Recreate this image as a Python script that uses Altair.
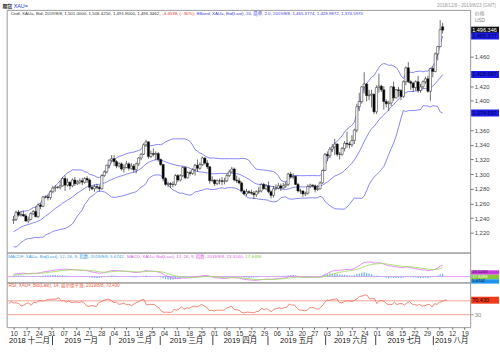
import altair as alt
import pandas as pd
import numpy as np

# ---------------- data ----------------
# closes before the visible window (Oct 1 - Dec 5 2018), only used to warm up the indicators
warmup_close = [1188, 1204, 1202, 1200, 1203, 1188, 1189, 1194, 1224, 1218, 1231, 1226, 1223, 1227, 1227, 1222,
                1231, 1233, 1232, 1235, 1228, 1223, 1214,
                1233, 1232, 1231, 1227, 1226, 1224, 1209, 1202, 1202, 1210, 1214, 1222, 1224, 1222, 1227, 1227,
                1223, 1222, 1214, 1222, 1224, 1221,
                1231, 1238, 1237]

# visible candles, Dec 6 2018 - Aug 8 2019 (one per weekday)
opens = [
    1237, 1238, 1248, 1244, 1245, 1243, 1236, 1238, 1246, 1249, 1242, 1258, 1256, 1269, 1269, 1268, 1276, 1281,
    1282, 1282, 1284, 1294, 1285, 1289, 1284, 1292, 1287, 1289, 1291, 1289, 1294, 1292, 1282, 1280, 1283, 1282, 1280, 1298, 1303, 1312, 1319,
    1321, 1317, 1311, 1314, 1307, 1309, 1314, 1308, 1311, 1306, 1314, 1322, 1327, 1340, 1344, 1324, 1328, 1327, 1328, 1320,
    1313, 1294, 1286, 1287, 1286, 1286, 1298, 1292, 1298, 1309, 1295, 1302, 1301, 1306, 1312, 1308, 1313, 1322, 1315, 1310, 1291,
    1292, 1287, 1291, 1291, 1290, 1291, 1298, 1303, 1307, 1292, 1291, 1288, 1277, 1273, 1276, 1275, 1274, 1272, 1276, 1277, 1286, 1280,
    1284, 1276, 1271, 1280, 1281, 1284, 1281, 1284, 1286, 1300, 1296, 1297, 1286, 1277, 1277, 1273, 1274, 1283, 1285, 1284, 1279, 1280, 1288,
    1305, 1327, 1325, 1334, 1337, 1341, 1327, 1327, 1335, 1342, 1341, 1340, 1346, 1360, 1392, 1399, 1419, 1423, 1407, 1408,
    1409, 1385, 1418, 1420, 1415, 1399, 1396, 1397, 1419, 1404, 1415, 1414, 1406, 1426, 1445, 1426, 1424, 1418, 1426, 1414, 1419, 1426, 1430,
    1413, 1444, 1440, 1464, 1474, 1501.0]
highs = [
    1243, 1250, 1251, 1249, 1250, 1246, 1242, 1248, 1251, 1256, 1260, 1261, 1270, 1271, 1272, 1278, 1284, 1285,
    1284, 1291, 1296, 1298, 1294, 1290, 1294, 1296, 1292, 1294, 1295, 1296, 1297, 1294, 1284, 1286, 1287, 1285, 1300, 1305, 1313, 1320, 1326,
    1326, 1319, 1316, 1316, 1313, 1318, 1316, 1315, 1314, 1316, 1323, 1329, 1342, 1347, 1345, 1332, 1335, 1331, 1330, 1321,
    1314, 1296, 1290, 1289, 1290, 1300, 1300, 1300, 1311, 1310, 1304, 1305, 1308, 1314, 1320, 1316, 1324, 1323, 1319, 1311, 1297,
    1293, 1293, 1294, 1296, 1295, 1301, 1306, 1310, 1309, 1298, 1295, 1290, 1279, 1280, 1278, 1279, 1277, 1278, 1282, 1288, 1288, 1286,
    1290, 1278, 1284, 1286, 1288, 1287, 1288, 1290, 1302, 1303, 1301, 1298, 1288, 1280, 1278, 1276, 1286, 1287, 1286, 1286, 1285, 1290, 1306,
    1329, 1331, 1337, 1341, 1348, 1342, 1330, 1337, 1345, 1358, 1344, 1353, 1362, 1396, 1411, 1420, 1439, 1424, 1415, 1415,
    1410, 1421, 1437, 1422, 1420, 1402, 1400, 1420, 1426, 1416, 1419, 1416, 1428, 1447, 1453, 1428, 1426, 1428, 1434, 1423, 1428, 1433, 1434,
    1445, 1447, 1466, 1475, 1510, 1506.425]
lows = [
    1232, 1236, 1242, 1242, 1242, 1235, 1233, 1237, 1244, 1241, 1240, 1252, 1255, 1267, 1264, 1265, 1274, 1276,
    1280, 1279, 1283, 1277, 1283, 1279, 1282, 1284, 1285, 1286, 1285, 1287, 1288, 1277, 1278, 1276, 1279, 1276, 1279, 1296, 1301, 1308, 1316,
    1311, 1308, 1309, 1305, 1302, 1308, 1305, 1306, 1302, 1301, 1311, 1319, 1326, 1337, 1321, 1322, 1324, 1319, 1317, 1311,
    1290, 1284, 1282, 1281, 1282, 1284, 1289, 1290, 1296, 1293, 1294, 1298, 1299, 1298, 1303, 1306, 1311, 1313, 1307, 1287, 1289,
    1284, 1285, 1286, 1285, 1286, 1289, 1296, 1302, 1290, 1288, 1286, 1276, 1272, 1270, 1273, 1272, 1266, 1269, 1273, 1275, 1279, 1278,
    1274, 1267, 1268, 1278, 1279, 1277, 1280, 1281, 1284, 1294, 1293, 1285, 1275, 1273, 1269, 1270, 1272, 1281, 1282, 1275, 1277, 1279, 1287,
    1304, 1318, 1322, 1330, 1326, 1324, 1320, 1325, 1331, 1336, 1335, 1337, 1341, 1357, 1386, 1396, 1410, 1399, 1401, 1391,
    1382, 1382, 1411, 1412, 1388, 1391, 1386, 1393, 1400, 1403, 1405, 1401, 1404, 1421, 1424, 1415, 1412, 1414, 1411, 1411, 1416, 1423, 1411,
    1400, 1432, 1439, 1455, 1473, 1491.8]
closes = [
    1238, 1248, 1244, 1245, 1243, 1236, 1238, 1246, 1249, 1242, 1258, 1256, 1269, 1269, 1268, 1276, 1281, 1282,
    1282, 1284, 1294, 1285, 1289, 1284, 1292, 1287, 1289, 1291, 1289, 1294, 1292, 1282, 1280, 1283, 1282, 1280, 1298, 1303, 1312, 1319, 1321,
    1317, 1311, 1314, 1307, 1309, 1314, 1308, 1311, 1306, 1314, 1322, 1327, 1340, 1344, 1324, 1328, 1327, 1328, 1320, 1313,
    1294, 1286, 1287, 1286, 1286, 1298, 1292, 1298, 1309, 1295, 1302, 1301, 1306, 1312, 1308, 1313, 1322, 1315, 1310, 1291, 1292,
    1287, 1291, 1291, 1290, 1291, 1298, 1303, 1307, 1292, 1291, 1288, 1277, 1273, 1276, 1275, 1274, 1272, 1276, 1277, 1286, 1280, 1284,
    1276, 1271, 1280, 1281, 1284, 1281, 1284, 1286, 1300, 1296, 1297, 1286, 1277, 1277, 1273, 1274, 1283, 1285, 1284, 1279, 1280, 1288, 1305,
    1327, 1325, 1334, 1337, 1341, 1327, 1327, 1335, 1342, 1341, 1340, 1346, 1360, 1392, 1399, 1419, 1423, 1407, 1408, 1409,
    1385, 1418, 1420, 1415, 1399, 1396, 1397, 1419, 1404, 1415, 1414, 1406, 1426, 1445, 1426, 1424, 1418, 1426, 1414, 1419, 1426, 1430, 1413,
    1444, 1440, 1464, 1474, 1497, 1496.3462]

day_labels = ["10", "17", "24", "31", "07", "14", "21", "28", "04", "11", "18", "25", "04", "11", "18", "25",
              "01", "08", "15", "22", "29", "06", "13", "20", "27", "03", "10", "17", "24", "01", "08", "15",
              "22", "29", "05", "12", "19"]
month_names = ["2018 十二月", "2019 一月", "2019 二月", "2019 三月", "2019 四月", "2019 五月",
               "2019 六月", "2019 七月", "2019 八月"]
price_ticks = list(range(1220, 1501, 20))
rsi_levels = [30, 70]
bb_legend_vals = ["1,465.377", "1,428.987", "1,374.597"]
macd_legend_vals = ["23.5240", "17.8498", "5.6742"]
rsi_legend_val = "70.430"

main_legend = [("Cndl, XAU=, Bid, 2019/8/8, 1,501.0000, 1,506.4250, 1,491.8000, 1,496.3462, ", "#333333"),
               ("-4.4538, (-.30%), ", "#e0301e"),
               ("BBand, XAU=, Bid(Last), 20, 简单, 2.0, 2019/8/8, 1,465.3774, 1,428.9872, 1,374.5970", "#3a3ae0")]
macd_legend = [("MACDF, XAU=, Bid(Last), 12, 26, 9, 指数, 2019/8/8, 5.6742, ", "#3a9be0"),
               ("MACD, XAU=, Bid(Last), 12, 26, 9, 指数, 2019/8/8, 23.5240, ", "#d85ce8"),
               ("17.8498", "#8cc83c")]
rsi_legend = [("RSI, XAU=, Bid(Last), 14, 威尔德平滑, 2019/8/8, 70.430", "#ec5a40")]

# ---------------- indicators ----------------
n_vis = min(len(opens), len(highs), len(lows), len(closes))
close_all = pd.Series(warmup_close + closes[:n_vis], dtype=float)
mid = close_all.rolling(20).mean()
sd = close_all.rolling(20).std(ddof=0)
ema12 = close_all.ewm(span=12, adjust=False).mean()
ema26 = close_all.ewm(span=26, adjust=False).mean()
macd = ema12 - ema26
sig = macd.ewm(span=9, adjust=False).mean()
delta = close_all.diff().fillna(0)
gain = delta.clip(lower=0).ewm(alpha=1 / 14, adjust=False).mean()
loss = (-delta.clip(upper=0)).ewm(alpha=1 / 14, adjust=False).mean()
rsi = 100 - 100 / (1 + gain / loss)

w = len(warmup_close)
vis = pd.DataFrame({
    "idx": np.arange(n_vis),
    "open": opens[:n_vis], "high": highs[:n_vis], "low": lows[:n_vis], "close": closes[:n_vis],
    "mid": mid.values[w:], "up": (mid + 2 * sd).values[w:], "lo": (mid - 2 * sd).values[w:],
    "macd": macd.values[w:], "sig": sig.values[w:], "hist": (macd - sig).values[w:],
    "rsi": rsi.values[w:],
})
last_idx = n_vis - 1
last = vis.iloc[-1]

# hide price labels that the value boxes cover
cover = [last["close"], last["up"], last["mid"], last["lo"]]
price_vals = [v for v in price_ticks if min(abs(v - c) for c in cover) > 9.5]

# calendar for the axis (weekday index 0 = 2018-12-06)
cal = pd.bdate_range("2018-12-06", "2019-08-23")
months = cal.month.values
bounds = [i - 0.5 for i in range(1, len(cal)) if months[i] != months[i - 1]]

XDOM = [-0.8, 184.2]
edges = [XDOM[0]] + bounds + [XDOM[1]]
mids = [(edges[i] + edges[i + 1]) / 2 for i in range(len(edges) - 1)]
month_df = pd.DataFrame({"m": mids, "name": month_names[:len(mids)]})
sep_df = pd.DataFrame({"b": bounds})
day_expr = "[" + ",".join(f"'{d}'" for d in day_labels) + "][round((datum.value-2)/5)]"

FONT = "Liberation Sans, Noto Sans CJK SC, sans-serif"
W = 466
H_MAIN, H_MACD, H_RSI = 244, 30, 45
xs = alt.Scale(domain=XDOM, nice=False, zero=False)
X = alt.X("idx:Q", scale=xs, axis=None)

EM = {",": .278, ".": .278, " ": .278, "-": .333, "(": .333, ")": .333, "%": .889, "/": .278, "=": .584,
      "A": .667, "B": .667, "C": .722, "D": .722, "F": .611, "I": .278, "L": .556, "M": .833, "R": .722,
      "S": .667, "U": .722, "X": .667, "a": .556, "d": .556, "i": .222, "l": .222, "n": .556, "s": .5, "t": .278}


def em_width(s):
    return sum(1.0 if ord(ch) > 0x2E80 else EM.get(ch, .556) for ch in s)


def txt(text, x, y, color, size=4.8, weight="normal", align="left"):
    return alt.Chart(pd.DataFrame({"t": [text]})).mark_text(
        align=align, baseline="middle", fontSize=size, color=color, font=FONT, fontWeight=weight
    ).encode(x=alt.value(x), y=alt.value(y), text="t:N")


def legend_row(segs, x0, x1, y):
    total = sum(em_width(s) for s, _ in segs)
    size = max(3.6, min(5.6, (x1 - x0) / total))
    out, x = [], x0
    for s, c in segs:
        out.append(txt(s.strip(), x, y, c, size=size))
        x += em_width(s) * size
    return out


# ---------------- main panel ----------------
ys_main = alt.Scale(domain=[1193, 1524], nice=False, zero=False)
ax_main = alt.Axis(orient="right", values=price_vals, format=",d", labelFontSize=6, labelColor="#444",
                   labelFont=FONT, tickSize=3, tickColor="#777", domain=False, grid=False, labelPadding=1,
                   labelOverlap=False,
                   title=["价格", "USD"], titleAngle=0, titleAlign="left", titleBaseline="top",
                   titleX=4, titleY=1, titleFontSize=5, titleColor="#888", titleFont=FONT, titleFontWeight="normal")
base = alt.Chart(vis)
bb_color = "#7878f2"
bands = [base.mark_line(color=bb_color, strokeWidth=0.9).encode(
    x=X, y=alt.Y(f"{c}:Q", scale=ys_main, axis=ax_main)) for c in ["up", "mid", "lo"]]
wick = base.mark_rule(color="#333", strokeWidth=0.7).encode(
    x=X, y=alt.Y("low:Q", scale=ys_main, axis=ax_main), y2="high:Q")
body = base.mark_bar(size=2.2, stroke="#222", strokeWidth=0.5).encode(
    x=X, y=alt.Y("open:Q", scale=ys_main, axis=ax_main), y2="close:Q",
    fill=alt.condition("datum.close >= datum.open", alt.value("white"), alt.value("black")))

lastb = base.transform_filter(f"datum.idx == {last_idx}")


def box(src, field, scale, ax, fill, text, tcolor, x0=467, x1=495):
    r = src.mark_rect(color=fill, yOffset=-3.5, y2Offset=3.5).encode(
        x=alt.value(x0), x2=alt.value(x1),
        y=alt.Y(f"{field}:Q", scale=scale, axis=ax), y2=f"{field}:Q")
    t = src.mark_text(align="left", baseline="middle", fontSize=5.6, color=tcolor, font=FONT).encode(
        x=alt.value(x0 + 1), y=alt.Y(f"{field}:Q", scale=scale, axis=ax), text=alt.value(text))
    return [r, t]


main_boxes = (box(lastb, "close", ys_main, ax_main, "#111", "1,496.346", "white")
              + box(lastb, "up", ys_main, ax_main, "#1c1ce6", bb_legend_vals[0], "#000044")
              + box(lastb, "mid", ys_main, ax_main, "#1c1ce6", bb_legend_vals[1], "#000044")
              + box(lastb, "lo", ys_main, ax_main, "#1c1ce6", bb_legend_vals[2], "#000044"))

main_text = [
    txt("期货", -4.3, -4.3, "#222", size=5, weight="bold"),
    txt("XAU=", 7, -4.3, "#2a3fd0", size=5.4),
    txt("2018/12/6 - 2019/8/23 (GMT)", 492, -4.3, "#9a9a9a", size=4.6, align="right"),
] + legend_row(main_legend, 4, 359, 3.8)

main = alt.layer(*bands, wick, body, *main_boxes, *main_text).properties(width=W, height=H_MAIN)

# ---------------- MACD panel ----------------
ys_macd = alt.Scale(domain=[-12, 49], nice=False, zero=False)
ax_off = alt.Axis(orient="right", labels=False, ticks=False, domain=False, grid=False, title=None)
mbase = alt.Chart(vis)
zero = alt.Chart(pd.DataFrame({"z": [0]})).mark_rule(color="#e8a6f0", strokeWidth=1).encode(
    y=alt.Y("z:Q", scale=ys_macd, axis=ax_off))
hist = mbase.mark_bar(size=1.3, color="#78b4f0").encode(x=X, y=alt.Y("hist:Q", scale=ys_macd, axis=ax_off))
mline = mbase.mark_line(color="#e07ff0", strokeWidth=0.9).encode(x=X, y=alt.Y("macd:Q", scale=ys_macd, axis=ax_off))
sline = mbase.mark_line(color="#a5dc6a", strokeWidth=0.9).encode(x=X, y=alt.Y("sig:Q", scale=ys_macd, axis=ax_off))
mtext = legend_row(macd_legend, 1.5, 256, 4.8)


def vbox(y, fill, text, tcolor):
    d = pd.DataFrame({"t": [text]})
    r = alt.Chart(d).mark_rect(color=fill).encode(
        x=alt.value(467), x2=alt.value(495), y=alt.value(y - 2.2), y2=alt.value(y + 2.2))
    t = alt.Chart(d).mark_text(
        align="left", baseline="middle", fontSize=4.3, color=tcolor, font=FONT).encode(
        x=alt.value(468), y=alt.value(y), text="t:N")
    return [r, t]


mboxes = (vbox(20.0, "#c93ae0", macd_legend_vals[0], "#331144")
          + vbox(24.5, "#86c83a", macd_legend_vals[1], "white")
          + vbox(29.0, "#1f95ea", macd_legend_vals[2], "#111"))
macd_panel = alt.layer(zero, hist, mline, sline, *mtext, *mboxes).properties(width=W, height=H_MACD)

# ---------------- RSI panel ----------------
ys_rsi = alt.Scale(domain=[-6, 123], nice=False, zero=False)
ax_rsi = alt.Axis(orient="right", values=[30], labelFontSize=6, labelColor="#888", labelFont=FONT,
                  tickSize=3, tickColor="#999", domain=False, grid=False, title=None, labelPadding=1)
lev = alt.Chart(pd.DataFrame({"v": rsi_levels})).mark_rule(color="#f4a595", strokeWidth=1).encode(
    y=alt.Y("v:Q", scale=ys_rsi, axis=ax_rsi))
day_axis = alt.Axis(orient="bottom", values=[2 + 5 * k for k in range(len(day_labels))], labelExpr=day_expr,
                    labelFontSize=6.5, labelColor="#333", labelFont=FONT, tickSize=2, tickColor="#666",
                    domain=False, grid=False, labelPadding=1, labelOverlap=False, labelFlush=False, title=None)
rline = alt.Chart(vis).mark_line(color="#f07766", strokeWidth=0.9).encode(
    x=alt.X("idx:Q", scale=xs, axis=day_axis), y=alt.Y("rsi:Q", scale=ys_rsi, axis=ax_rsi))
mon_text = alt.Chart(month_df).mark_text(fontSize=7.5, color="#111", font=FONT, baseline="middle").encode(
    x=alt.X("m:Q", scale=xs, axis=day_axis), y=alt.value(H_RSI + 13.5), text="name:N")
seps = alt.Chart(sep_df).mark_rule(color="#444", strokeWidth=1).encode(
    x=alt.X("b:Q", scale=xs, axis=day_axis), y=alt.value(H_RSI + 9), y2=alt.value(H_RSI + 18))
rtext = legend_row(rsi_legend, 2, 114, 3.8)
rlast = alt.Chart(vis).transform_filter(f"datum.idx == {last_idx}")
rbox = box(rlast, "rsi", ys_rsi, ax_rsi, "#f03a1c", rsi_legend_val, "#220000")
rsi_panel = alt.layer(lev, rline, mon_text, seps, *rtext, *rbox).properties(width=W, height=H_RSI)

chart = alt.vconcat(main, macd_panel, rsi_panel, spacing=0, bounds="flush").properties(
    padding={"left": 1.7, "top": 1, "right": 0, "bottom": 0}, background="white"
).configure_view(stroke="#9a9a9a", strokeWidth=1)

chart.save("out.html", embed_options={"renderer": "svg", "actions": False})
